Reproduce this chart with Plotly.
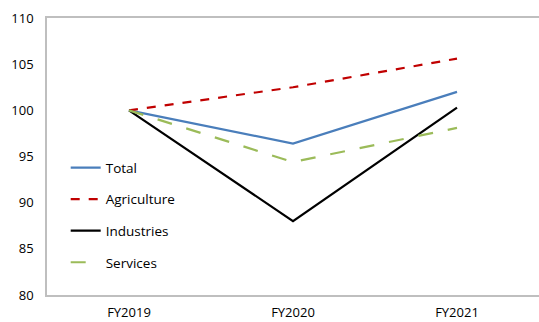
import plotly.graph_objects as go

categories = ["FY2019", "FY2020", "FY2021"]
total = [100, 96.4, 102.0]
agriculture = [100, 102.5, 105.6]
industries = [100, 88.0, 100.3]
services = [100, 94.4, 98.1]

font_family = "Open Sans, Noto Sans, sans-serif"

fig = go.Figure()
series = [
    ("Total", total, dict(color="#4A7EBB", width=2.2, dash="solid")),
    ("Agriculture", agriculture, dict(color="#C00000", width=2.2, dash="dash")),
    ("Industries", industries, dict(color="#000000", width=2.2, dash="solid")),
    ("Services", services, dict(color="#9BBB59", width=2.2, dash="longdash")),
]
for i, (name, vals, line) in enumerate(series):
    fig.add_trace(go.Scatter(x=categories, y=vals, mode="lines", name=name,
                             line=line, legendgroup=f"g{i}"))

fig.update_layout(
    width=539, height=322,
    margin=dict(l=47, r=0, t=18, b=27, autoexpand=False),
    paper_bgcolor="white", plot_bgcolor="white",
    font=dict(family=font_family, size=13, color="#000000"),
    showlegend=True,
    legend=dict(x=0.038, y=0.515, xanchor="left", yanchor="top",
                bgcolor="rgba(0,0,0,0)", tracegroupgap=11,
                font=dict(size=13.5, family=font_family)),
    xaxis=dict(type="category", range=[-0.5, 2.5], showgrid=False, showline=True,
               linecolor="#BFBFBF", linewidth=1.5,
               mirror=True, ticks="", ticklabelstandoff=5,
               tickfont=dict(size=13)),
    yaxis=dict(range=[80, 110], dtick=5, showgrid=False, showline=True,
               linecolor="#BFBFBF", linewidth=1.5, mirror=True, ticks="",
               ticklabelstandoff=9, zeroline=False, tickfont=dict(size=13)),
)

fig.write_html("out.html")
